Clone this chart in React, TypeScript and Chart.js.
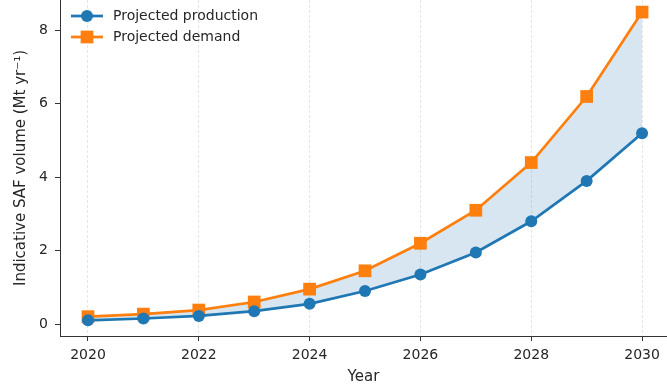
import React, { useEffect, useRef } from "react";
import { Chart, registerables } from "chart.js";

Chart.register(...registerables);

// Projected sustainable aviation fuel volumes, Mt per year
const years = [2020, 2021, 2022, 2023, 2024, 2025, 2026, 2027, 2028, 2029, 2030];
const production = [0.1, 0.15, 0.22, 0.35, 0.55, 0.9, 1.35, 1.95, 2.8, 3.9, 5.2];
const demand = [0.2, 0.27, 0.38, 0.6, 0.95, 1.45, 2.2, 3.1, 4.4, 6.2, 8.5];
const seriesLabels = ["Projected production", "Projected demand"];
const xTitle = "Year";
const yTitle = "Indicative SAF volume (Mt yr\u207B\u00B9)";

const BLUE = "#1f77b4";
const ORANGE = "#ff7f0e";
const FONT = '"DejaVu Sans", sans-serif';
const TEXT = "#262626";
const AXIS = "#333333";

// Frameless legend in the upper-left corner of the plot, line with marker
const insideLegend = {
  id: "insideLegend",
  afterDatasetsDraw(chart: any) {
    const ctx: CanvasRenderingContext2D = chart.ctx;
    const { left, top } = chart.chartArea;
    chart.data.datasets.forEach((ds: any, i: number) => {
      const y = top + 16 + i * 21;
      const x0 = left + 11;
      const x1 = left + 43;
      const xm = (x0 + x1) / 2;
      ctx.save();
      ctx.strokeStyle = ds.borderColor;
      ctx.lineWidth = ds.borderWidth;
      ctx.beginPath();
      ctx.moveTo(x0, y);
      ctx.lineTo(x1, y);
      ctx.stroke();
      ctx.fillStyle = ds.pointBackgroundColor;
      if (ds.pointStyle === "rect") {
        const s = ds.pointRadius * Math.SQRT1_2;
        ctx.fillRect(xm - s, y - s, 2 * s, 2 * s);
      } else {
        ctx.beginPath();
        ctx.arc(xm, y, ds.pointRadius, 0, Math.PI * 2);
        ctx.fill();
      }
      ctx.font = `14px ${FONT}`;
      ctx.fillStyle = TEXT;
      ctx.textBaseline = "middle";
      ctx.textAlign = "left";
      ctx.fillText(ds.label, left + 53, y + 0.5);
      ctx.restore();
    });
  },
};

export default function App() {
  const canvasRef = useRef<HTMLCanvasElement | null>(null);

  useEffect(() => {
    if (!canvasRef.current) return;
    const chart = new Chart(canvasRef.current, {
      type: "line",
      data: {
        datasets: [
          {
            label: seriesLabels[0],
            data: years.map((x, i) => ({ x, y: production[i] })),
            borderColor: BLUE,
            backgroundColor: BLUE,
            pointBackgroundColor: BLUE,
            pointBorderColor: BLUE,
            pointBorderWidth: 0,
            borderWidth: 2.7,
            pointRadius: 6,
            pointStyle: "circle",
            fill: false,
            tension: 0,
          },
          {
            label: seriesLabels[1],
            data: years.map((x, i) => ({ x, y: demand[i] })),
            borderColor: ORANGE,
            backgroundColor: "rgba(31,119,180,0.18)",
            pointBackgroundColor: ORANGE,
            pointBorderColor: ORANGE,
            pointBorderWidth: 0,
            borderWidth: 2.7,
            pointRadius: 9,
            pointStyle: "rect",
            fill: "-1",
            tension: 0,
          },
        ],
      },
      options: {
        responsive: false,
        animation: false,
        devicePixelRatio: 1,
        layout: { padding: 0, autoPadding: false },
        plugins: {
          legend: { display: false },
          tooltip: { enabled: false },
        },
        scales: {
          x: {
            type: "linear",
            min: 2019.495,
            max: 2030.45,
            afterFit(scale: any) {
              scale.height = 52;
              scale.paddingLeft = 0;
              scale.paddingRight = 0;
            },
            ticks: {
              stepSize: 2,
              includeBounds: false,
              padding: 6,
              color: TEXT,
              font: { family: FONT, size: 14 },
              maxRotation: 0,
              callback: (v: any) => String(v),
            },
            grid: {
              display: true,
              drawOnChartArea: true,
              color: "rgba(0,0,0,0.13)",
              lineWidth: 0.8,
              tickColor: AXIS,
              tickLength: 5,
              tickWidth: 1,
            },
            border: { display: true, color: AXIS, width: 1, dash: [3, 2] },
            title: {
              display: true,
              text: xTitle,
              color: TEXT,
              font: { family: FONT, size: 15 },
              padding: { top: 0, bottom: 2 },
            },
          },
          y: {
            type: "linear",
            min: -0.327,
            max: 8.83,
            afterFit(scale: any) {
              scale.width = 60;
              scale.paddingTop = 0;
              scale.paddingBottom = 0;
            },
            ticks: {
              stepSize: 2,
              includeBounds: false,
              padding: 7,
              color: TEXT,
              font: { family: FONT, size: 14 },
              callback: (v: any) => String(v),
            },
            grid: {
              display: true,
              drawOnChartArea: false,
              tickColor: AXIS,
              tickLength: 5,
              tickWidth: 1,
            },
            border: { display: true, color: AXIS, width: 1 },
            title: {
              display: true,
              text: yTitle,
              color: TEXT,
              font: { family: FONT, size: 15 },
              padding: { top: 12, bottom: 0 },
            },
          },
        },
      },
      plugins: [insideLegend],
    });
    return () => chart.destroy();
  }, []);

  return (
    <div style={{ position: "absolute", left: 0, top: 0, width: 667, height: 388, background: "#fff" }}>
      <canvas ref={canvasRef} width={667} height={388} style={{ display: "block" }} />
    </div>
  );
}
